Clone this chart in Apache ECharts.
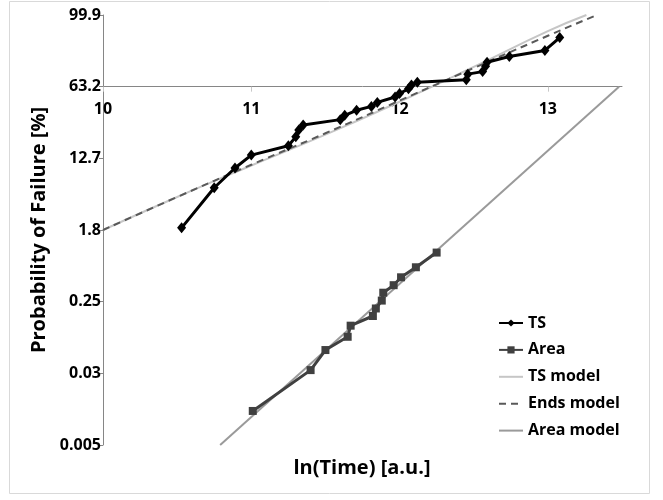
<!DOCTYPE html>
<html>
<head>
<meta charset="utf-8">
<script src="https://cdn.jsdelivr.net/npm/echarts@6/dist/echarts.min.js"></script>
<style>
  html, body { margin: 0; padding: 0; background: #fff; }
  #chart { width: 663px; height: 500px; }
</style>
</head>
<body>
<div id="chart"></div>
<script>
// x = ln(time), y = ln(-ln(1 - F))  (Weibull scale)
const tsX = [10.53, 10.75, 10.89, 11.00, 11.25, 11.30, 11.32, 11.35, 11.60, 11.63, 11.71, 11.81, 11.85, 11.97, 12.00, 12.06, 12.08, 12.12, 12.45, 12.46, 12.56, 12.58, 12.59, 12.74, 12.98, 13.08];
const tsY = [-3.94, -2.82, -2.27, -1.91, -1.65, -1.40, -1.21, -1.07, -0.92, -0.80, -0.66, -0.55, -0.44, -0.29, -0.19, -0.06, 0.05, 0.12, 0.19, 0.35, 0.42, 0.57, 0.68, 0.84, 1.01, 1.37];

const areaX = [11.01, 11.40, 11.50, 11.65, 11.67, 11.82, 11.84, 11.88, 11.89, 11.96, 12.01, 12.11, 12.25];
const areaY = [-9.05, -7.91, -7.35, -6.98, -6.67, -6.40, -6.19, -5.97, -5.75, -5.54, -5.32, -5.04, -4.63];

const tsModelX = [10.0, 10.5, 11.0, 11.5, 12.0, 12.5, 13.0, 13.26];
const tsModelY = [-4.0, -3.08, -2.2, -1.34, -0.42, 0.55, 1.55, 2.0];

const endsModelX = [10.0, 10.5, 11.0, 11.5, 12.0, 12.5, 13.0, 13.33];
const endsModelY = [-4.0, -3.08, -2.18, -1.3, -0.39, 0.52, 1.42, 2.0];

const areaModelX = [10.79, 13.48];
const areaModelY = [-10, 0];

const xTicks = [10, 11, 12, 13];
const yTicks = [-10, -8, -6, -4, -2, 0, 2];
const yTickLabels = ['0.005', '0.03', '0.25', '1.8', '12.7', '63.2', '99.9'];

const FONT = '"Open Sans", sans-serif';

function pairs(xs, ys) {
    return xs.map((x, i) => [x, ys[i]]);
}

let chart = echarts.init(document.getElementById('chart'));

// the x axis sits on y = 0, which is 2/12 of the plot height down from the top
const plotTop = 15, plotBottom = 55, plotH = 500 - plotTop - plotBottom;
const xAxisOffset = -(plotH * 10 / 12);

let option = {
    animation: false,
    backgroundColor: '#fff',
    textStyle: { fontFamily: FONT },
    grid: { left: 103, right: 41, top: plotTop, bottom: plotBottom },
    graphic: [
        {
            type: 'rect', silent: true, z: -1,
            shape: { x: 9.5, y: 1.5, width: 640, height: 492 },
            style: { fill: 'none', stroke: '#d9d9d9', lineWidth: 1 }
        },
        {
            type: 'text', silent: true,
            style: {
                text: 'ln(Time) [a.u.]', x: 362, y: 468,
                align: 'center', verticalAlign: 'middle',
                font: 'bold 20px ' + FONT, fill: '#000'
            }
        }
    ],
    legend: {
        orient: 'vertical',
        left: 498, top: 315, padding: 0,
        itemWidth: 24, itemHeight: 9, itemGap: 10.9,
        textStyle: { fontSize: 16, fontWeight: 'bold', color: '#000', fontFamily: FONT },
        data: [
            { name: 'TS' },
            { name: 'Area' },
            { name: 'TS model', itemStyle: { opacity: 0 } },
            { name: 'Ends model', itemStyle: { opacity: 0 } },
            { name: 'Area model', itemStyle: { opacity: 0 } }
        ]
    },
    xAxis: {
        type: 'value',
        min: 10, max: 13.5, interval: 1,
        position: 'bottom',
        offset: xAxisOffset,
        axisLine: { onZero: false, lineStyle: { color: '#868686', width: 1 } },
        axisTick: { show: true, length: 5, lineStyle: { color: '#c8c8c8' }, customValues: xTicks },
        axisLabel: {
            customValues: xTicks,
            color: '#000', fontWeight: 'bold', fontSize: 16, fontFamily: FONT, margin: 15
        },
        splitLine: { show: false }
    },
    yAxis: {
        type: 'value',
        min: -10, max: 2, interval: 2,
        name: 'Probability of Failure [%]',
        nameLocation: 'middle', nameGap: 51,
        nameTextStyle: { fontSize: 20, fontWeight: 'bold', color: '#000', fontFamily: FONT },
        axisLine: { show: true, lineStyle: { color: '#868686', width: 1 } },
        axisTick: { show: true, length: 4, lineStyle: { color: '#868686' }, customValues: yTicks },
        axisLabel: {
            customValues: yTicks,
            formatter: v => yTickLabels[yTicks.indexOf(v)] ?? '',
            color: '#000', fontWeight: 'bold', fontSize: 16, fontFamily: FONT, margin: 2
        },
        splitLine: { show: false }
    },
    series: [
        {
            name: 'TS model', type: 'line', data: pairs(tsModelX, tsModelY),
            smooth: true, symbol: 'none', z: 1,
            lineStyle: { color: '#c6c6c6', width: 2 }, itemStyle: { color: '#c6c6c6' }
        },
        {
            name: 'Ends model', type: 'line', data: pairs(endsModelX, endsModelY),
            smooth: true, symbol: 'none', z: 2,
            lineStyle: { color: '#595959', width: 2, type: [7, 5] }, itemStyle: { color: '#595959' }
        },
        {
            name: 'Area model', type: 'line', data: pairs(areaModelX, areaModelY),
            symbol: 'none', z: 1,
            lineStyle: { color: '#9a9a9a', width: 2 }, itemStyle: { color: '#9a9a9a' }
        },
        {
            name: 'TS', type: 'line', data: pairs(tsX, tsY),
            symbol: 'diamond', symbolSize: [9, 11], z: 4,
            lineStyle: { color: '#000', width: 3 }, itemStyle: { color: '#000' }
        },
        {
            name: 'Area', type: 'line', data: pairs(areaX, areaY),
            symbol: 'rect', symbolSize: 8, z: 3,
            lineStyle: { color: '#404040', width: 3 }, itemStyle: { color: '#404040' }
        }
    ]
};

chart.setOption(option);
window.addEventListener('resize', () => chart.resize());
</script>
</body>
</html>
